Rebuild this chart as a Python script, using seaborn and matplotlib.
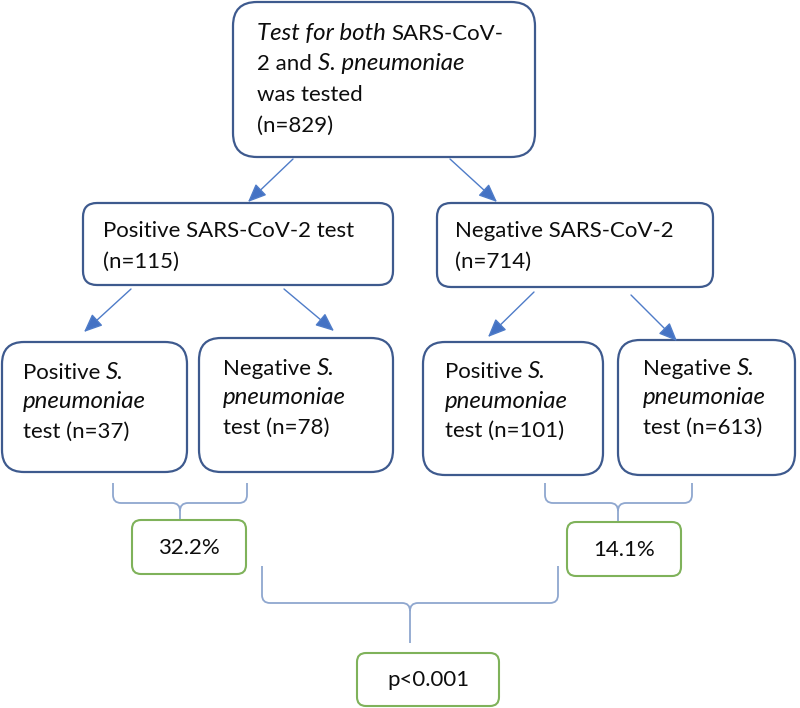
import matplotlib
matplotlib.use("Agg")
import matplotlib.pyplot as plt
from matplotlib.patches import FancyBboxPatch, FancyArrowPatch, PathPatch
from matplotlib.path import Path
import seaborn as sns

# ---------------- data ----------------
n_total = 829
n_sars_pos = 115
n_sars_neg = 714
n_pos_pos = 37
n_pos_neg = 78
n_neg_pos = 101
n_neg_neg = 613
pct_labels = ["32.2%", "14.1%"]
p_label = "p<0.001"

# box texts: each line is a list of (text, italic)
top_lines = [[("Test for both", True), (" SARS-CoV-", False)],
             [("2 and ", False), ("S. pneumoniae", True)],
             [("was tested", False)],
             [(f"(n={n_total})", False)]]
mid_left_lines = [[("Positive SARS-CoV-2 test", False)], [(f"(n={n_sars_pos})", False)]]
mid_right_lines = [[("Negative SARS-CoV-2", False)], [(f"(n={n_sars_neg})", False)]]


def leaf(sign, n):
    return [[(f"{sign} ", False), ("S.", True)], [("pneumoniae", True)], [(f"test (n={n})", False)]]


leaf_lines = [leaf("Positive", n_pos_pos), leaf("Negative", n_pos_neg),
              leaf("Positive", n_neg_pos), leaf("Negative", n_neg_neg)]

# ---------------- style ----------------
sns.set_theme(style="white")
plt.rcParams["font.family"] = ["Lato", "DejaVu Sans"]
FS = 16
FS_IT = 17.3
TXT = "#0d0d0d"
BLUE_EDGE = "#3e5a8e"
GREEN_EDGE = "#7fb25a"
ARROW = "#6a8cc8"
BRACE = "#8fa7cf"

W, H = 800, 708
fig = plt.figure(figsize=(W / 100, H / 100), dpi=100)
ax = fig.add_axes([0, 0, 1, 1])
ax.set_xlim(0, W)
ax.set_ylim(H, 0)
ax.axis("off")
fig.canvas.draw()
renderer = fig.canvas.get_renderer()


def text_width(s):
    t = ax.text(0, 0, s, fontsize=FS)
    bb = t.get_window_extent(renderer)
    t.remove()
    return bb.width


SPACE = text_width("x x") - text_width("xx")


def draw_line(x, y, segs):
    xd = ax.transData.transform((x, y))[0]
    for s, it in segs:
        lead = len(s) - len(s.lstrip(" "))
        trail = len(s) - len(s.rstrip(" "))
        core = s.strip(" ")
        xd += lead * SPACE
        xdata = ax.transData.inverted().transform((xd, 0))[0]
        t = ax.text(xdata, y, core, fontsize=FS_IT if it else FS, color=TXT, va="baseline",
                    ha="left", fontstyle="italic" if it else "normal")
        bb = t.get_window_extent(renderer)
        xd = bb.x1 + trail * SPACE


def box(x0, y0, x1, y1, r, color, lw=1.6):
    p = FancyBboxPatch((x0, y0), x1 - x0, y1 - y0,
                       boxstyle=f"round,pad=0,rounding_size={r}",
                       fc="white", ec=color, lw=lw, zorder=2)
    ax.add_patch(p)


def arrow(p0, p1):
    a = FancyArrowPatch(p0, p1, arrowstyle="-|>,head_length=0.75,head_width=0.32",
                        mutation_scale=15, color=ARROW, lw=1.0,
                        shrinkA=0, shrinkB=0, zorder=3)
    a.set_facecolor("#4472c4")
    a.set_edgecolor("#4f7cc8")
    ax.add_patch(a)


def brace(x0, x1, xc, y0, yb, ye, r=8):
    verts = [(x0, y0), (x0, yb - r), (x0, yb), (x0 + r, yb), (xc - r, yb), (xc, yb), (xc, yb + r),
             (xc, ye),
             (xc, yb + r), (xc, yb), (xc + r, yb), (x1 - r, yb), (x1, yb), (x1, yb - r), (x1, y0)]
    codes = [Path.MOVETO, Path.LINETO, Path.CURVE3, Path.CURVE3, Path.LINETO, Path.CURVE3, Path.CURVE3,
             Path.LINETO,
             Path.MOVETO, Path.CURVE3, Path.CURVE3, Path.LINETO, Path.CURVE3, Path.CURVE3, Path.LINETO]
    ax.add_patch(PathPatch(Path(verts, codes), fc="none", ec=BRACE, lw=1.3, zorder=1))


# top box
box(233, 2, 535, 157, 24, BLUE_EDGE)
for i, ln in enumerate(top_lines):
    draw_line(257, 40 + i * 30.5, ln)

# middle boxes
box(83, 203, 393, 285, 14, BLUE_EDGE)
box(437, 203, 713, 287, 14, BLUE_EDGE)
for i, ln in enumerate(mid_left_lines):
    draw_line(103, 237 + i * 31, ln)
for i, ln in enumerate(mid_right_lines):
    draw_line(455, 237 + i * 31, ln)

# leaf boxes
leaf_geo = [(2, 342, 187, 472, 23, 379),
            (199, 338, 393, 472, 223, 375),
            (423, 342, 603, 475, 445, 378),
            (618, 340, 795, 475, 643, 375)]
for (x0, y0, x1, y1, tx, ty), lines in zip(leaf_geo, leaf_lines):
    box(x0, y0, x1, y1, 22, BLUE_EDGE)
    for i, ln in enumerate(lines):
        draw_line(tx, ty + i * 29.5, ln)

# arrows
arrow((293, 159), (248, 202))
arrow((450, 159), (497, 202))
arrow((131, 289), (84, 332))
arrow((284, 289), (334, 331))
arrow((534, 292), (488, 337))
arrow((631, 295), (677, 341))

# braces
brace(113, 247, 180, 483, 503, 519)
brace(545, 692, 618, 483, 503, 521)
brace(262, 558, 410, 566, 603, 643)

# green result boxes
box(132, 520, 246, 574, 9, GREEN_EDGE, lw=1.5)
box(567, 522, 681, 576, 9, GREEN_EDGE, lw=1.5)
box(357, 653, 499, 706, 9, GREEN_EDGE, lw=1.5)
ax.text(189, 548, pct_labels[0], fontsize=FS, color=TXT, ha="center", va="center")
ax.text(624, 550, pct_labels[1], fontsize=FS, color=TXT, ha="center", va="center")
ax.text(428, 680, p_label, fontsize=FS, color=TXT, ha="center", va="center")

fig.savefig("out.png", dpi=100, facecolor="white")
